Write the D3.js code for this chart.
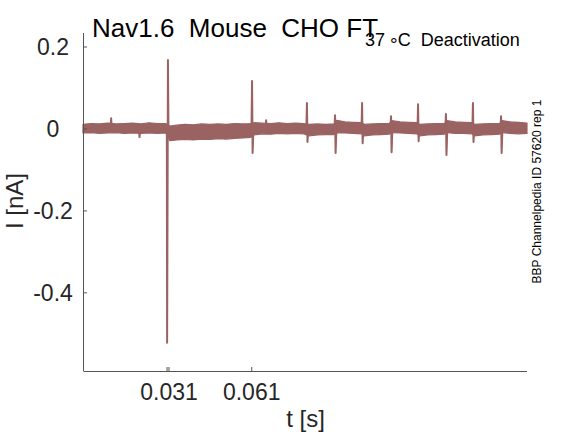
<!DOCTYPE html>
<html>
<head>
<meta charset="utf-8">
<script src="https://cdn.jsdelivr.net/npm/d3@7"></script>
<style>
  html, body { margin: 0; padding: 0; background: #fff; }
  svg { display: block; font-family: "Liberation Sans", Arial, Helvetica, sans-serif; }
  text { white-space: pre; }
</style>
</head>
<body>
<svg id="chart" width="583" height="438"></svg>
<script>
// ---------- data ----------
const titleText = "Nav1.6  Mouse  CHO FT";
const subtitleMain = "37 ";
const subtitleDeg = "°";
const subtitleRest = "C  Deactivation";
const sideNote = "BBP Channelpedia ID 57620 rep 1";
const xLabel = "t [s]";
const yLabel = "I [nA]";

const xDomain = [0, 0.161];
const yDomain = [-0.592, 0.233];

const xTickValues = [0.0303, 0.031, 0.061];
const xTickLabels = ["", "0.031", "0.061"];
const yTickValues = [0.2, 0, -0.2, -0.4];
const yTickLabels = ["0.2", "0", "-0.2", "-0.4"];

// baseline band of overlapping sweeps: time [s], upper and lower edge [nA]
const bandT  = [0.000,0.003,0.006,0.009,0.012,0.015,0.018,0.021,0.024,0.027,0.030,
                0.0315,0.034,0.037,0.040,0.043,0.046,0.049,0.052,0.055,0.058,0.0608,
                0.062,0.065,0.068,0.071,0.074,0.077,0.080,
                0.082,0.085,0.088,0.091,
                0.092,0.095,0.098,0.101,
                0.102,0.105,0.108,0.111,
                0.112,0.115,0.118,0.121,
                0.122,0.125,0.128,0.131,
                0.132,0.135,0.138,0.141,
                0.142,0.145,0.148,0.151,
                0.152,0.155,0.158,0.161];
const bandHi = [0.010,0.012,0.011,0.013,0.011,0.012,0.013,0.011,0.014,0.012,0.012,
                0.006,0.008,0.010,0.009,0.011,0.010,0.011,0.010,0.012,0.011,0.012,
                0.014,0.013,0.012,0.014,0.012,0.013,0.012,
                0.010,0.011,0.010,0.011,
                0.020,0.016,0.015,0.014,
                0.010,0.011,0.012,0.012,
                0.019,0.016,0.015,0.014,
                0.010,0.011,0.012,0.012,
                0.019,0.016,0.015,0.014,
                0.010,0.011,0.012,0.012,
                0.019,0.016,0.015,0.013];
const bandLo = [-0.011,-0.010,-0.012,-0.011,-0.010,-0.012,-0.011,-0.012,-0.011,-0.012,-0.011,
                -0.030,-0.028,-0.027,-0.028,-0.026,-0.027,-0.025,-0.026,-0.024,-0.023,-0.022,
                -0.016,-0.013,-0.014,-0.012,-0.013,-0.012,-0.013,
                -0.018,-0.016,-0.015,-0.015,
                -0.010,-0.011,-0.012,-0.013,
                -0.018,-0.016,-0.015,-0.014,
                -0.010,-0.011,-0.012,-0.013,
                -0.018,-0.016,-0.015,-0.014,
                -0.010,-0.012,-0.012,-0.013,
                -0.018,-0.016,-0.015,-0.014,
                -0.010,-0.012,-0.013,-0.012];

// transient spikes: time [s], positive peak [nA], negative peak [nA]
const spikeT    = [0.0102, 0.0203, 0.0308, 0.0613, 0.0664, 0.0812, 0.0914, 0.1012, 0.1117, 0.1215, 0.1316, 0.1414, 0.1516];
const spikeUp   = [0.025,  0.000,  0.167,  0.116,  0.020,  0.062,  0.032,  0.062,  0.030,  0.059,  0.035,  0.062,  0.030];
const spikeDown = [0.000, -0.021, -0.523, -0.060,  0.000, -0.033, -0.060, -0.036, -0.058, -0.031, -0.065, -0.033, -0.060];

// ---------- drawing ----------
const traceColor = "#9a6362";
const axisColor = "#555555";
const textColor = "#262626";

const svg = d3.select("#chart");
const x = d3.scaleLinear().domain(xDomain).range([83, 527]);
const y = d3.scaleLinear().domain(yDomain).range([371, 33]);

const band = bandT.map((t, i) => ({t, hi: bandHi[i], lo: bandLo[i]}));

const area = d3.area()
  .x(d => x(d.t))
  .y0(d => y(d.lo))
  .y1(d => y(d.hi));

svg.append("path")
  .datum(band)
  .attr("d", area)
  .attr("fill", traceColor)
  .attr("stroke", traceColor)
  .attr("stroke-width", 1.2)
  .attr("stroke-linejoin", "round");

const line = d3.line().x(d => x(d[0])).y(d => y(d[1]));
spikeT.forEach((t, i) => {
  const main = i === 2;
  const pts = main
    ? [[t - 0.0004, 0], [t - 0.0003, spikeDown[i]], [t - 0.0001, -0.085], [t, spikeUp[i]], [t + 0.0002, -0.02], [t + 0.0005, 0]]
    : [[t - 0.0002, 0], [t, spikeUp[i]], [t + 0.0002, spikeDown[i]], [t + 0.0005, 0]];
  svg.append("path")
    .attr("d", line(pts))
    .attr("fill", "none")
    .attr("stroke", traceColor)
    .attr("stroke-width", main ? 2 : 2)
    .attr("stroke-linejoin", "round");
});

// axes
const xAxis = d3.axisBottom(x)
  .tickValues(xTickValues)
  .tickFormat((d, i) => xTickLabels[i])
  .tickSizeInner(-4)
  .tickSizeOuter(0);
const gx = svg.append("g").attr("transform", "translate(0,371)").call(xAxis);
gx.select(".domain").attr("stroke", axisColor).attr("d", "M83.5,0.5H527");
gx.selectAll(".tick line").attr("stroke", axisColor);
gx.selectAll(".tick text")
  .attr("y", 29).attr("dy", null)
  .attr("fill", textColor)
  .style("font-size", "23px")
  .style("font-family", "'Liberation Sans', Arial, sans-serif");

const yAxis = d3.axisLeft(y)
  .tickValues(yTickValues)
  .tickFormat((d, i) => yTickLabels[i])
  .tickSizeInner(-4)
  .tickSizeOuter(0);
const gy = svg.append("g").attr("transform", "translate(83,0)").call(yAxis);
gy.select(".domain").attr("stroke", axisColor).attr("d", "M0.5,33V371");
gy.selectAll(".tick line").attr("stroke", axisColor);
gy.selectAll(".tick text")
  .attr("x", -30).attr("dy", "0.35em")
  .attr("text-anchor", "middle")
  .attr("fill", textColor)
  .style("font-size", "23px")
  .style("font-family", "'Liberation Sans', Arial, sans-serif");

// texts
svg.append("text")
  .attr("x", 92).attr("y", 37)
  .attr("fill", "#000")
  .style("font-size", "26px")
  .text(titleText);

const sub = svg.append("text")
  .attr("x", 365).attr("y", 46)
  .attr("fill", "#000")
  .style("font-size", "18px");
sub.append("tspan").text(subtitleMain);
sub.append("tspan").attr("dy", 5).style("font-size", "19px").text(subtitleDeg);
sub.append("tspan").attr("dy", -5).text(subtitleRest);

svg.append("text")
  .attr("transform", "translate(23,201) rotate(-90)")
  .attr("text-anchor", "middle")
  .attr("fill", textColor)
  .style("font-size", "24px")
  .text(yLabel);

svg.append("text")
  .attr("x", 305.5).attr("y", 427)
  .attr("text-anchor", "middle")
  .attr("fill", textColor)
  .style("font-size", "24px")
  .text(xLabel);

svg.append("text")
  .attr("transform", "translate(541,191.5) rotate(-90)")
  .attr("text-anchor", "middle")
  .attr("fill", "#000")
  .style("font-size", "12px")
  .text(sideNote);
</script>
</body>
</html>
